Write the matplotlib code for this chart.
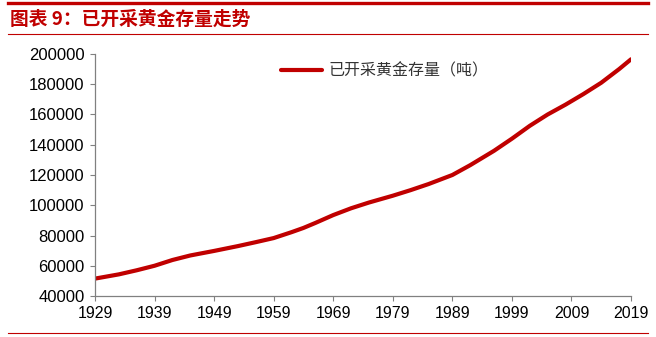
import matplotlib
matplotlib.use("Agg")
from matplotlib import pyplot as plt
from matplotlib.lines import Line2D

plt.rcParams["font.family"] = ["Liberation Sans", "Noto Sans CJK SC", "DejaVu Sans"]

# values
years = [1929, 1933, 1936, 1939, 1942, 1945, 1949, 1953, 1956, 1959,
         1962, 1964, 1966, 1969, 1972, 1975, 1979, 1982, 1985, 1989, 1992,
         1996, 1999, 2002, 2005, 2008, 2011, 2014, 2017, 2019]
stock = [51500, 54300, 57000, 60000, 63800, 66800, 69800, 73000, 75600, 78300,
         82200, 85000, 88300, 93500, 98000, 101800, 106300, 110000, 114000, 120000, 126500,
         136000, 144000, 152500, 160000, 166500, 173500, 181000, 190000, 196500]
xticks = list(range(1929, 2020, 10))
yticks = list(range(40000, 200001, 20000))

title = "图表 9：已开采黄金存量走势"
label = "已开采黄金存量（吨）"
red = "#c00000"

W, H = 656, 337
fig = plt.figure(figsize=(W / 100, H / 100), dpi=100)
ax = fig.add_axes([95 / W, 1 - 296 / H, (631 - 95) / W, (296 - 54) / H])

ax.plot(years, stock, color=red, lw=3, solid_capstyle="round",
        solid_joinstyle="round", label=label)

ax.set_xlim(1929, 2019)
ax.set_ylim(40000, 200000)
ax.set_xticks(xticks)
ax.set_yticks(yticks)
ax.tick_params(direction="out", length=3.5, width=0.8, color="#808080", pad=4)
ax.tick_params(axis="x", labelsize=11.5)
ax.tick_params(axis="y", labelsize=12)
for s in ["top", "right"]:
    ax.spines[s].set_visible(False)
for s in ["left", "bottom"]:
    ax.spines[s].set_color("#808080")
    ax.spines[s].set_linewidth(0.9)

handle = Line2D([], [], color=red, lw=3, solid_capstyle="round")
leg = ax.legend([handle], [label], loc="upper left", bbox_to_anchor=(0.32, 1.025),
                frameon=False, handlelength=2.6, handletextpad=0.4,
                prop={"family": ["Noto Sans CJK SC"], "size": 11.5})
for t in leg.get_texts():
    t.set_color("#333333")

# header and footer decoration
fig.add_artist(Line2D([8 / W, 648 / W], [1 - 3 / H, 1 - 3 / H], color=red, lw=2.4))
fig.add_artist(Line2D([8 / W, 648 / W], [1 - 34 / H, 1 - 34 / H], color=red, lw=0.8))
fig.add_artist(Line2D([8 / W, 648 / W], [1 - 333 / H, 1 - 333 / H], color=red, lw=0.8))
fig.text(10 / W, 1 - 19 / H, title, color=red, fontsize=13.5, fontweight="bold",
         style="italic", va="center", ha="left",
         family=["Noto Sans CJK SC", "DejaVu Sans"])

fig.savefig("out.png", dpi=100)
